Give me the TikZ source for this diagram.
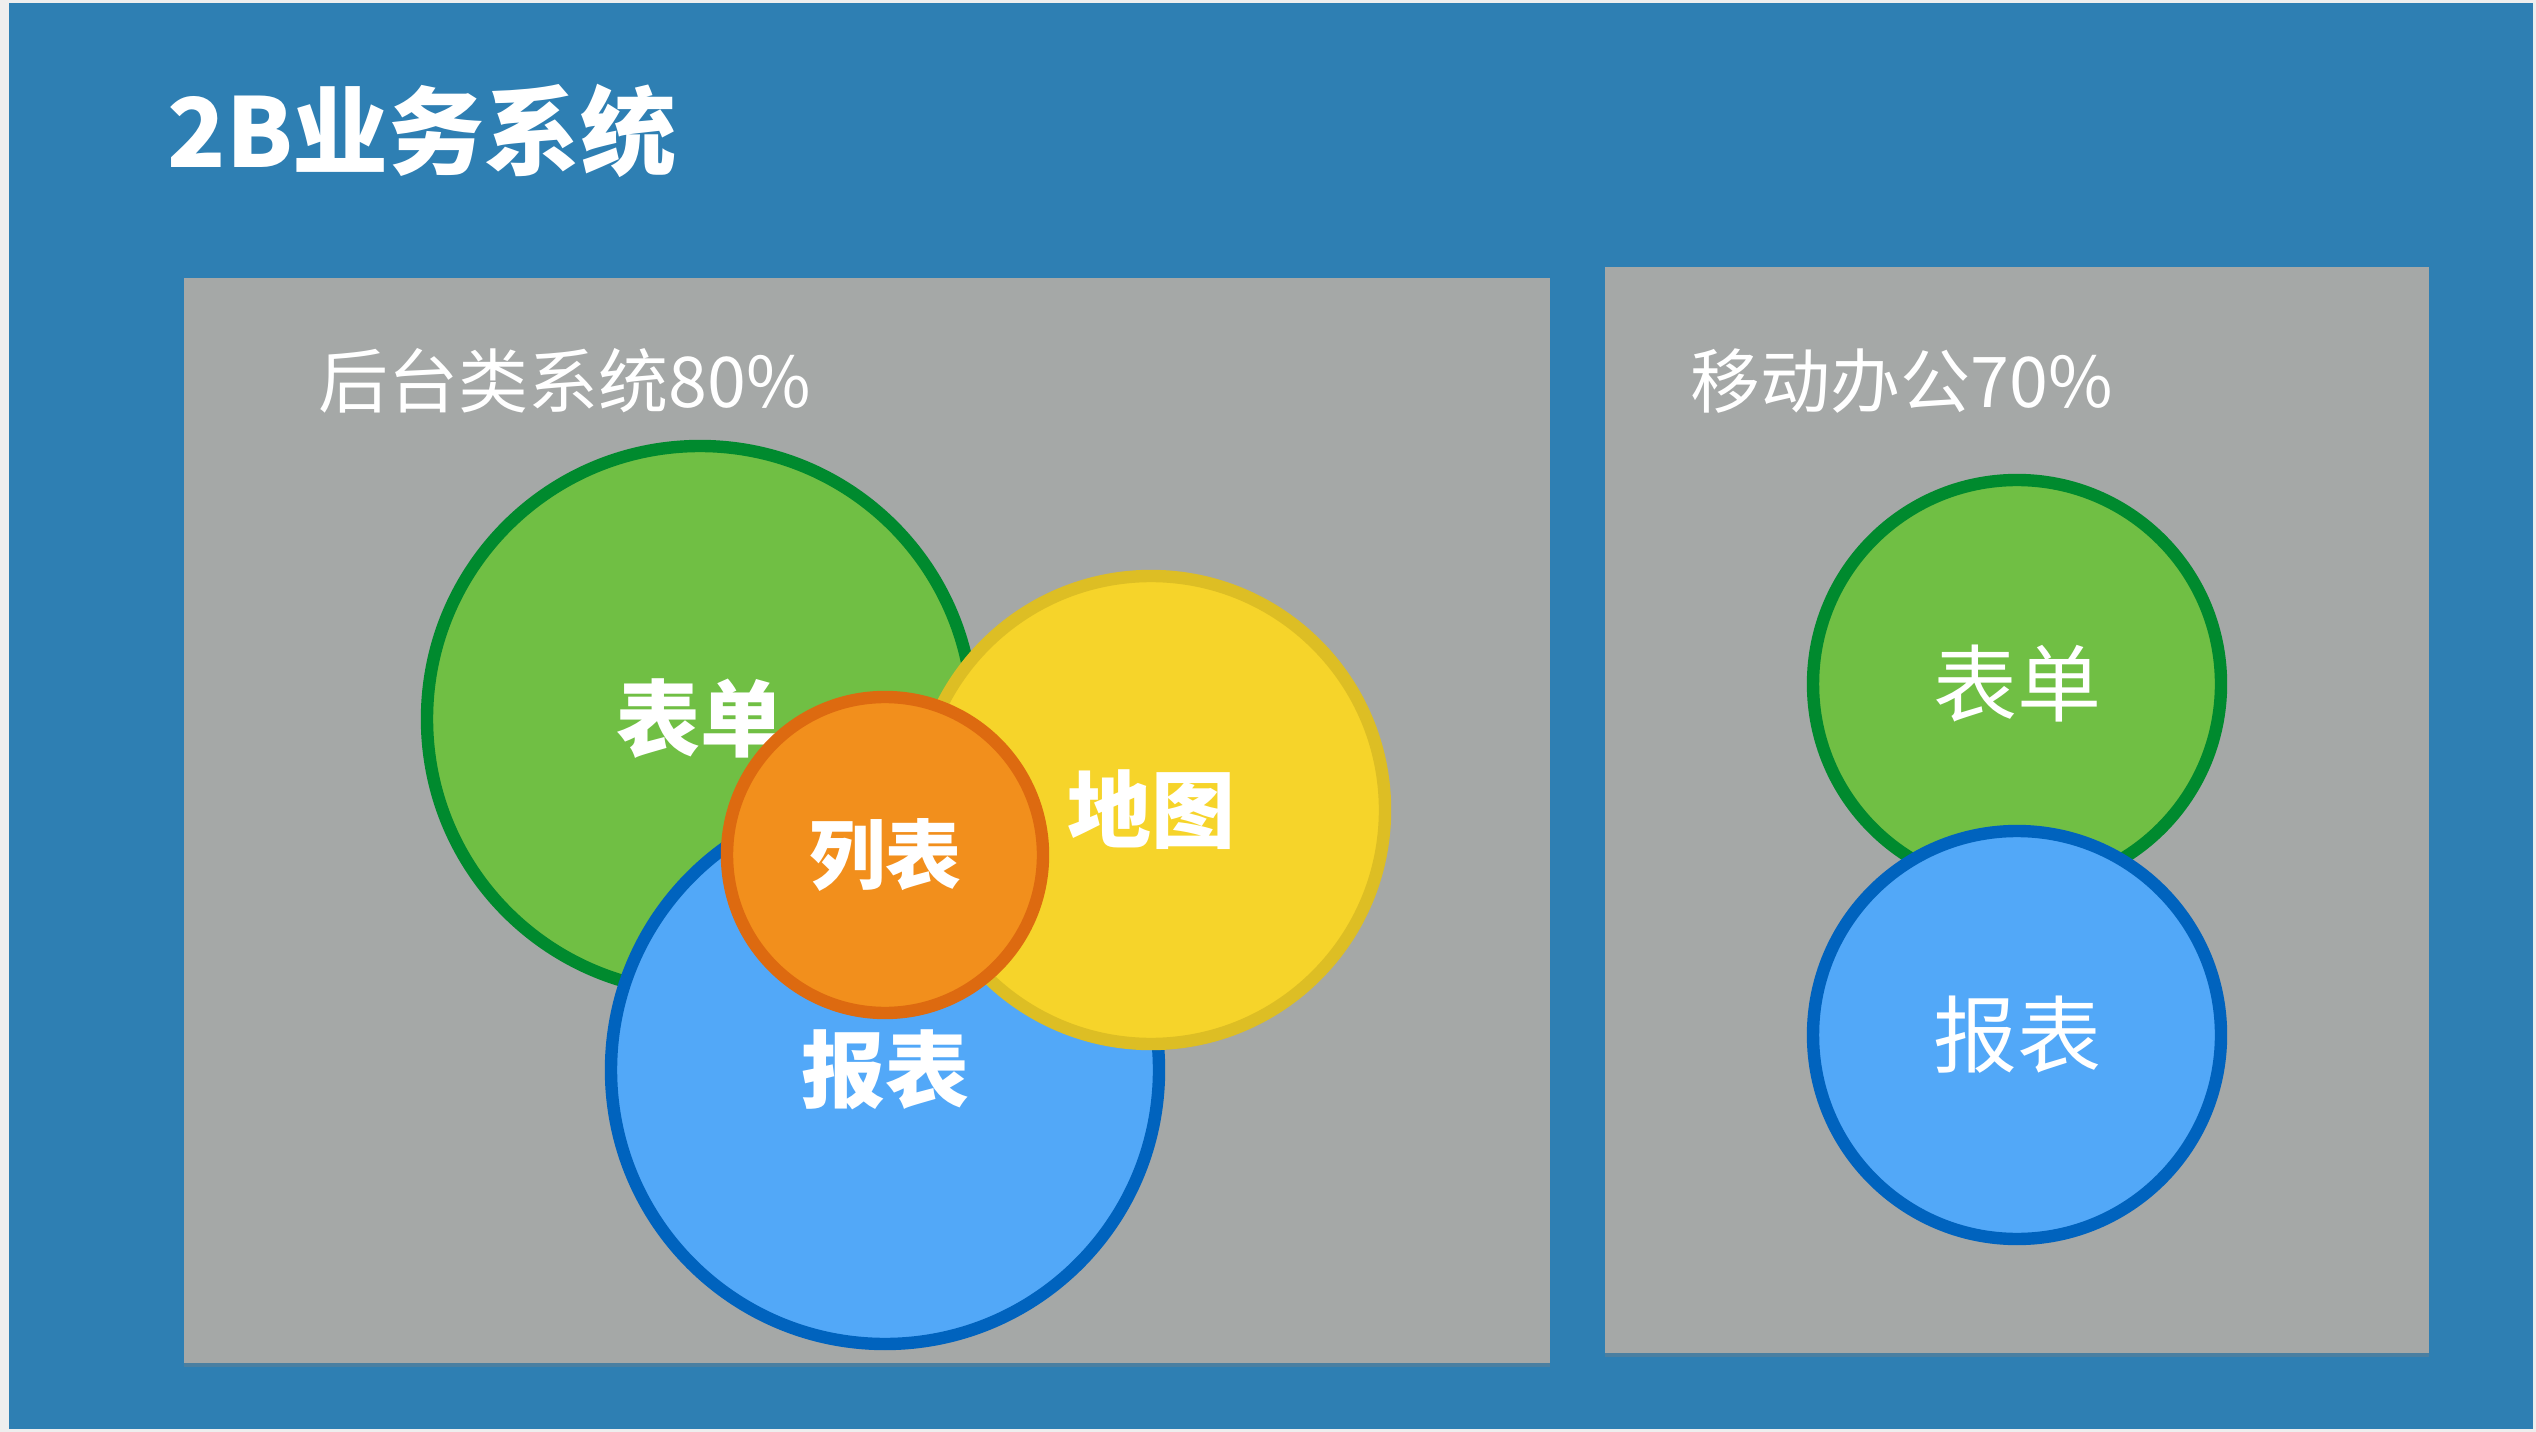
\documentclass[tikz,border=0pt]{standalone}
\usepackage{fontspec}
\setmainfont{Noto Sans CJK SC}
\usetikzlibrary{shadows}
\definecolor{bgblue}{RGB}{46,127,179}
\definecolor{frame}{RGB}{238,238,238}
\definecolor{panelgray}{RGB}{165,168,167}
\definecolor{gfill}{RGB}{112,191,68}
\definecolor{gdraw}{RGB}{0,138,46}
\definecolor{yfill}{RGB}{246,212,42}
\definecolor{ydraw}{RGB}{221,190,36}
\definecolor{ofill}{RGB}{242,143,28}
\definecolor{odraw}{RGB}{221,106,16}
\definecolor{bfill}{RGB}{82,168,248}
\definecolor{bdraw}{RGB}{0,99,190}
\def\u{0.25pt}
\newcommand\fsz[1]{\fontsize{#1*\u}{#1*\u}\selectfont}
\tikzset{
  panel/.style={fill=panelgray, draw=none,
    drop shadow={shadow xshift=0pt, shadow yshift=-1pt, opacity=0.35}},
  bubble/.style={circle, line width=3.1pt, text=white, inner sep=0pt,
    drop shadow={shadow xshift=0pt, shadow yshift=-1.5pt, opacity=0.3}},
  boldlbl/.style={font=\fontsize{21pt}{21pt}\selectfont\bfseries},
  thinlbl/.style={font=\fontsize{21pt}{21pt}\selectfont},
  sub/.style={text=white, inner sep=0pt, anchor=base west, font=\fontsize{17.5pt}{17.5pt}\selectfont},
}
\begin{document}
\begin{tikzpicture}[x=0.25pt, y=-0.25pt]
\useasboundingbox (0,0) rectangle (2536,1432);
\fill[frame] (0,0) rectangle (2536,1432);
\fill[bgblue] (9,3) rectangle (2533,1429);
% title
\node[text=white, inner sep=0pt, anchor=base west, font=\fontsize{24pt}{24pt}\selectfont\bfseries] (title) at (167,168) {2B业务系统};
% panels
\path[panel] (184,278) rectangle (1550,1363);
\path[panel] (1605,267) rectangle (2429,1353);
\node[sub] (sub1) at (318,408) {后台类系统80\%};
\node[sub] (sub2) at (1690,408) {移动办公70\%};
% left bubbles
\node[bubble, fill=gfill, draw=gdraw, minimum size=546*\u, boldlbl] (form) at (700,719) {表单};
\node[bubble, fill=bfill, draw=bdraw, minimum size=548*\u, boldlbl] (report) at (885,1070) {报表};
\node[bubble, fill=yfill, draw=ydraw, minimum size=468*\u, boldlbl] (map) at (1151,810) {地图};
\node[bubble, fill=ofill, draw=odraw, minimum size=316*\u, font=\fontsize{19pt}{19pt}\selectfont\bfseries] (list) at (885,855) {列表};
% right bubbles
\node[bubble, fill=gfill, draw=gdraw, minimum size=408*\u, thinlbl] (mform) at (2017,684) {表单};
\node[bubble, fill=bfill, draw=bdraw, minimum size=408*\u, thinlbl] (mreport) at (2017,1035) {报表};
\end{tikzpicture}
\end{document}
